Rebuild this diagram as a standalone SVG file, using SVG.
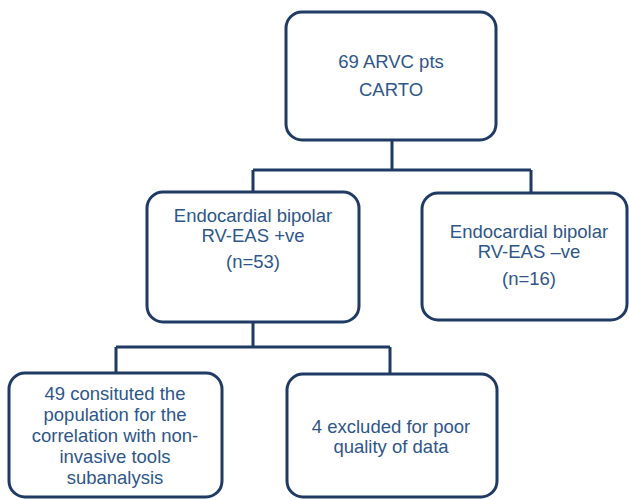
<svg xmlns="http://www.w3.org/2000/svg" width="629" height="500" viewBox="0 0 629 500">
<style>
.box{fill:#ffffff;stroke:#1f3b64;stroke-width:3}
.conn{fill:none;stroke:#1f3b64;stroke-width:3}
.t{font-family:"Liberation Sans",Arial,sans-serif;font-size:18.5px;fill:#2e5689;text-anchor:middle}
</style>
<rect width="629" height="500" fill="#ffffff"/>
<g id="connectors">
<path class="conn" d="M392 140 V170 M253 170 H531 M253 170 V192 M531 170 V193"/>
<path class="conn" d="M253 322 V347 M116 347 H390 M116 347 V373 M390 347 V374"/>
</g>
<g id="n1">
<rect class="box" x="286" y="12" width="210" height="128" rx="16"/>
<text class="t" x="391" y="68">69 ARVC pts</text>
<text class="t" x="391" y="96">CARTO</text>
</g>
<g id="n2">
<rect class="box" x="147" y="192" width="212" height="130" rx="16"/>
<text class="t" x="253" y="222">Endocardial bipolar</text>
<text class="t" x="253" y="242">RV-EAS +ve</text>
<text class="t" x="253" y="268">(n=53)</text>
</g>
<g id="n3">
<rect class="box" x="422" y="193" width="205" height="127" rx="16"/>
<text class="t" x="529" y="238">Endocardial bipolar</text>
<text class="t" x="529" y="258">RV-EAS –ve</text>
<text class="t" x="529" y="285">(n=16)</text>
</g>
<g id="n4">
<rect class="box" x="9" y="373" width="213" height="124" rx="16"/>
<text class="t" x="115" y="400">49 consituted the</text>
<text class="t" x="115" y="421">population for the</text>
<text class="t" x="115" y="442">correlation with non-</text>
<text class="t" x="115" y="463">invasive tools</text>
<text class="t" x="115" y="484">subanalysis</text>
</g>
<g id="n5">
<rect class="box" x="287" y="374" width="210" height="123" rx="16"/>
<text class="t" x="391" y="433">4 excluded for poor</text>
<text class="t" x="391" y="453">quality of data</text>
</g>
</svg>
